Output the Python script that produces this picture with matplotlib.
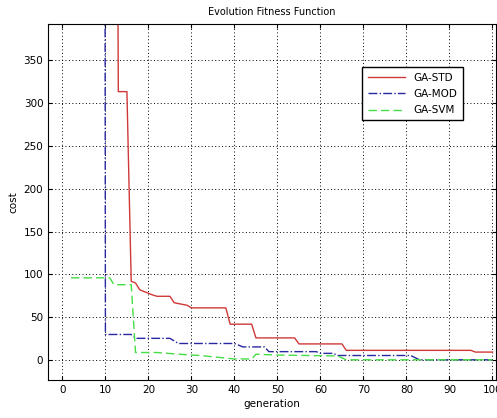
import matplotlib.pyplot as plt

# points (generation, cost); the big values sit off the top
std_gen = [1, 12, 13, 15, 16, 17, 18, 19, 20, 21, 22, 25, 26, 28, 29, 30, 38, 39, 44, 45, 54, 55, 65, 66, 95, 96, 100]
std_cost = [1500, 1500, 313, 313, 92, 90, 82, 80, 78, 76, 74.5, 74.5, 67, 65, 64, 61, 61, 42, 42, 26, 26, 19, 19, 11.5, 11.5, 9.5, 9.5]

mod_gen = [1, 9, 10, 16, 17, 25, 27, 40, 42, 47, 48, 59, 60, 63, 64, 81, 83, 100]
mod_cost = [5000, 5000, 30, 30, 25.5, 25.5, 19.5, 19.5, 15.5, 15.5, 10, 10, 8, 8, 5.5, 5.5, 0.5, 0.5]

svm_gen = [2, 11, 12, 16, 17, 22, 27, 32, 37, 40, 44, 45, 50, 64, 66, 100]
svm_cost = [96, 96, 88, 88, 9, 9, 7, 5.5, 3, 1.5, 1.5, 7, 6, 5, 0.5, 0.5]

fig = plt.figure(figsize=(4.97, 4.18), dpi=100)
ax = fig.add_axes([0.097, 0.091, 0.9, 0.852])

ax.plot(std_gen, std_cost, '-', color='#d03838', lw=1, label='GA-STD')
ax.plot(mod_gen, mod_cost, '-.', color='#2828a0', lw=1, label='GA-MOD')
ax.plot(svm_gen, svm_cost, '--', color='#44dd44', lw=1, label='GA-SVM', dashes=(6, 3))

ax.set_xlim(-3.3, 100.7)
ax.set_ylim(-23, 392)
ax.set_xticks(range(0, 101, 10))
ax.set_yticks(range(0, 351, 50))
ax.grid(True, linestyle=(0, (1, 2.5)), color='black', lw=0.7)
ax.tick_params(direction='in', top=True, right=True, labelsize=7.5, length=3)

ax.set_title('Evolution Fitness Function', fontsize=7)
ax.set_xlabel('generation', fontsize=7.5, labelpad=3)
ax.set_ylabel('cost', fontsize=7.5)

leg = ax.legend(loc='upper right', bbox_to_anchor=(0.938, 0.892), fontsize=7.5,
                fancybox=False, edgecolor='black', framealpha=1,
                handlelength=3.6, borderpad=0.5, labelspacing=0.6)
leg.get_frame().set_linewidth(1)

fig.savefig('out.png', dpi=100)
